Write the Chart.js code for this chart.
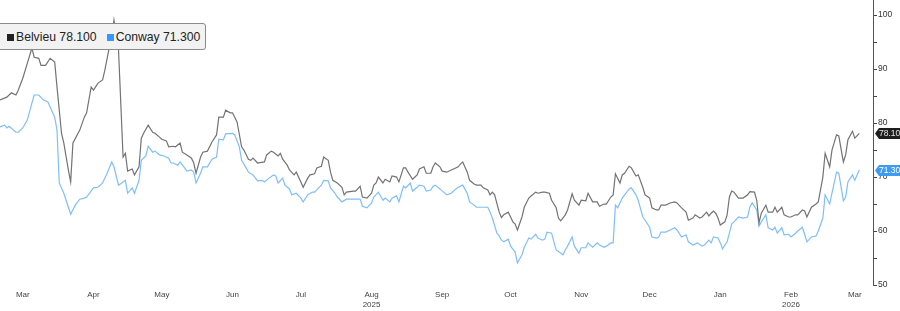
<!DOCTYPE html>
<html>
<head>
<meta charset="utf-8">
<script src="https://cdn.jsdelivr.net/npm/chart.js@4/dist/chart.umd.min.js"></script>
<style>
    body { margin: 0; background: #fff; }
    #wrap { position: relative; width: 900px; height: 311px; }
    #legend {
        position: absolute; left: -3px; top: 23px; height: 25px;
        padding: 0 5px 0 9px; display: flex; align-items: center;
        background: #f2f2f2; border: 1px solid #8a8a8a; border-radius: 3px;
        font-family: "Liberation Sans", Arial, sans-serif; font-size: 12.2px; color: #222;
    }
    #legend .sq { display: inline-block; width: 7px; height: 7px; margin-right: 2px; }
    #legend .item { margin-right: 10px; }
    #legend .item:last-child { margin-right: 0; }
</style>
</head>
<body>
<div id="wrap">
    <canvas id="chart"></canvas>
    <div id="legend"></div>
</div>
<script>
// x values are days counted from 1 Mar 2025
const monthDays = [0, 31, 61, 92, 122, 153, 184, 214, 245, 275, 306, 337, 365];
const monthLabels = ['Mar', 'Apr', 'May', 'Jun', 'Jul', ['Aug', '2025'], 'Sep', 'Oct', 'Nov', 'Dec', 'Jan', ['Feb', '2026'], 'Mar'];

const belvieuDays = [-10, -7, -5, -3, -2, 0, 2, 4, 5, 7, 8, 10, 12, 14, 15, 17, 18, 20, 21, 22, 25, 27, 28, 30, 31, 33, 35, 36, 38, 39, 40, 42, 44, 45, 46, 48, 49, 51, 52, 53, 55, 57, 58, 60, 61, 63, 64, 66, 67, 69, 70, 72, 74, 75, 76, 78, 79, 81, 83, 85, 86, 88, 89, 91, 92, 94, 96, 97, 99, 100, 101, 103, 106, 107, 109, 110, 112, 113, 114, 116, 117, 119, 120, 122, 123, 125, 126, 128, 129, 131, 132, 134, 135, 136, 138, 140, 141, 142, 145, 146, 148, 149, 151, 153, 154, 155, 156, 158, 159, 161, 162, 164, 165, 167, 168, 169, 171, 173, 174, 176, 177, 179, 180, 181, 183, 184, 186, 188, 189, 191, 192, 193, 195, 196, 198, 199, 201, 202, 204, 205, 206, 207, 209, 210, 211, 213, 214, 215, 216, 217, 219, 220, 222, 223, 225, 226, 228, 229, 231, 232, 234, 235, 236, 238, 239, 241, 242, 244, 245, 247, 248, 250, 252, 253, 255, 256, 258, 259, 260, 262, 263, 264, 266, 267, 269, 270, 272, 273, 275, 276, 278, 279, 280, 282, 284, 286, 287, 289, 291, 292, 294, 295, 297, 298, 300, 301, 302, 303, 304, 305, 306, 308, 309, 310, 311, 312, 314, 316, 318, 319, 321, 322, 323, 324, 326, 327, 329, 330, 331, 333, 334, 336, 337, 339, 340, 342, 343, 344, 346, 348, 349, 351, 352, 354, 355, 357, 358, 360, 361, 362, 364, 365, 367];
const belvieuValues = [84.3, 84.8, 85.6, 85.2, 86.1, 88.3, 91.1, 93.9, 92.2, 92.0, 90.7, 90.7, 92.0, 91.3, 86.7, 78.1, 76.3, 71.3, 69.1, 76.3, 78.7, 81.1, 81.9, 86.7, 86.1, 87.4, 88.0, 89.8, 94.1, 95.9, 99.1, 93.5, 73.7, 74.4, 71.1, 71.5, 70.4, 71.9, 77.2, 78.1, 79.6, 78.3, 78.1, 77.4, 77.0, 76.7, 75.6, 75.7, 75.6, 76.3, 74.6, 74.1, 73.5, 72.6, 70.7, 73.7, 74.6, 74.8, 76.5, 77.8, 81.1, 81.1, 82.4, 81.9, 81.9, 80.2, 75.6, 75.0, 73.3, 73.1, 73.5, 72.6, 72.8, 74.1, 74.8, 74.6, 73.9, 74.4, 73.3, 72.2, 71.3, 70.4, 70.9, 69.1, 68.1, 69.8, 70.4, 70.6, 71.7, 72.0, 73.7, 73.1, 70.9, 69.4, 68.9, 68.1, 66.7, 67.2, 67.4, 67.4, 68.3, 66.3, 66.1, 67.0, 68.5, 68.9, 70.0, 68.9, 69.6, 69.1, 70.2, 70.0, 69.1, 71.7, 71.7, 70.9, 69.6, 70.4, 71.5, 71.9, 70.7, 70.7, 71.9, 72.6, 71.9, 71.1, 70.9, 71.3, 71.5, 71.9, 72.4, 72.8, 70.9, 69.4, 68.7, 68.5, 68.5, 68.0, 67.6, 66.7, 67.2, 66.7, 63.5, 62.5, 63.0, 63.5, 62.6, 61.7, 61.3, 60.2, 62.6, 64.4, 66.1, 66.5, 67.2, 67.0, 67.2, 67.2, 67.0, 65.7, 64.3, 62.4, 61.9, 63.0, 63.9, 66.9, 65.7, 64.8, 65.7, 65.6, 67.0, 65.4, 65.4, 64.6, 65.0, 65.0, 66.3, 66.7, 70.6, 68.9, 70.4, 70.7, 72.0, 71.7, 70.2, 70.4, 68.1, 66.7, 66.1, 64.3, 63.9, 63.9, 64.8, 64.8, 65.2, 65.4, 65.2, 64.3, 63.5, 62.0, 62.4, 63.0, 62.4, 62.6, 63.5, 62.8, 63.3, 63.7, 63.3, 62.4, 61.1, 61.7, 63.0, 66.3, 67.4, 67.2, 66.1, 66.1, 66.7, 67.3, 67.2, 65.7, 61.5, 63.3, 64.8, 63.5, 63.5, 64.4, 63.5, 64.4, 63.0, 62.6, 62.6, 63.0, 63.0, 63.9, 63.7, 62.6, 64.4, 65.0, 65.4, 70.0, 74.4, 71.9, 75.0, 77.8, 77.6, 72.8, 74.1, 76.9, 78.5, 77.2, 78.1];

const conwayDays = [-10, -8, -7, -6, -3, -2, 0, 2, 4, 5, 7, 9, 11, 14, 15, 16, 18, 20, 21, 23, 25, 27, 28, 31, 33, 35, 37, 39, 40, 42, 45, 46, 48, 49, 51, 52, 54, 55, 57, 58, 60, 62, 64, 65, 66, 68, 69, 71, 72, 74, 75, 76, 78, 79, 81, 83, 85, 86, 88, 89, 92, 93, 95, 96, 98, 99, 101, 103, 105, 106, 108, 110, 111, 112, 114, 115, 117, 118, 120, 122, 123, 125, 127, 128, 130, 131, 132, 134, 135, 137, 138, 140, 142, 144, 146, 148, 149, 151, 153, 154, 156, 158, 159, 161, 162, 164, 165, 167, 168, 170, 171, 173, 174, 176, 177, 179, 180, 181, 183, 186, 188, 190, 191, 193, 195, 196, 198, 199, 202, 204, 205, 206, 208, 209, 210, 211, 213, 214, 216, 217, 219, 220, 222, 223, 225, 226, 228, 229, 230, 232, 233, 234, 237, 238, 239, 241, 242, 244, 245, 247, 248, 250, 252, 253, 255, 256, 258, 259, 260, 261, 263, 266, 267, 269, 270, 272, 273, 275, 276, 278, 279, 280, 282, 284, 286, 287, 289, 291, 292, 294, 296, 298, 299, 301, 302, 303, 305, 306, 307, 308, 309, 311, 312, 314, 316, 318, 319, 320, 322, 323, 324, 326, 327, 329, 330, 331, 333, 334, 336, 337, 339, 340, 342, 343, 344, 346, 348, 349, 351, 352, 354, 355, 357, 358, 360, 361, 362, 364, 365, 367];
const conwayValues = [79.3, 79.6, 79.1, 79.4, 78.3, 78.3, 79.1, 80.6, 83.7, 85.2, 85.2, 84.3, 83.9, 81.1, 78.7, 68.9, 67.0, 64.4, 63.1, 64.8, 65.9, 66.1, 66.3, 68.0, 68.1, 68.9, 70.7, 72.8, 71.9, 68.5, 69.4, 67.0, 68.0, 67.0, 69.4, 73.1, 73.9, 75.7, 74.6, 74.8, 74.1, 73.9, 73.5, 72.6, 72.6, 72.2, 72.8, 71.7, 71.1, 71.3, 70.9, 68.9, 70.7, 71.9, 71.9, 73.3, 73.7, 77.0, 76.9, 78.0, 78.1, 77.8, 75.6, 73.1, 71.7, 70.9, 70.4, 69.3, 69.4, 69.1, 69.8, 70.4, 70.2, 68.9, 69.8, 68.5, 67.8, 66.7, 67.0, 66.1, 65.4, 66.7, 67.2, 67.2, 68.1, 68.5, 69.4, 69.3, 68.0, 67.0, 66.3, 65.4, 65.9, 65.9, 65.9, 65.9, 64.6, 64.3, 65.2, 66.3, 67.2, 65.7, 66.1, 65.4, 66.1, 66.5, 65.4, 68.3, 68.0, 68.9, 67.4, 68.1, 68.5, 68.3, 67.4, 67.6, 68.3, 68.5, 67.8, 66.7, 67.0, 67.8, 68.1, 68.5, 67.0, 65.4, 64.8, 64.4, 64.4, 64.4, 63.5, 62.4, 59.6, 59.1, 58.3, 58.0, 58.5, 57.2, 56.1, 54.1, 55.6, 57.0, 58.7, 58.5, 59.4, 58.7, 58.3, 58.5, 59.8, 59.6, 58.0, 56.5, 55.6, 56.5, 57.2, 58.9, 57.2, 55.9, 56.9, 56.9, 57.8, 57.0, 57.8, 57.4, 57.0, 57.2, 57.8, 57.8, 64.8, 64.3, 66.1, 67.8, 68.0, 66.7, 65.7, 62.6, 62.0, 60.7, 58.9, 58.7, 58.9, 59.8, 59.8, 60.2, 60.6, 60.2, 58.9, 59.3, 58.0, 57.4, 57.8, 57.2, 57.4, 58.3, 57.8, 58.9, 58.7, 57.8, 56.7, 57.4, 58.0, 61.3, 61.7, 62.6, 62.4, 62.6, 64.5, 65.2, 63.9, 60.9, 61.7, 63.0, 60.6, 60.2, 60.7, 59.6, 60.6, 59.3, 59.4, 58.9, 59.6, 60.0, 60.7, 59.4, 58.0, 58.9, 59.1, 60.0, 62.4, 66.7, 65.0, 67.0, 70.9, 70.7, 65.6, 66.3, 69.1, 70.4, 69.4, 71.3];

const belvieuLast = belvieuValues[belvieuValues.length - 1];
const conwayLast = conwayValues[conwayValues.length - 1];

/// ==== Legend (html, sits on top of the plot) ==== ///
document.getElementById('legend').innerHTML =
    '<span class="item"><span class="sq" style="background:#222"></span>Belvieu ' + belvieuLast.toFixed(3) + '</span>' +
    '<span class="item"><span class="sq" style="background:#3399ff"></span>Conway ' + conwayLast.toFixed(3) + '</span>';

/// ==== Last value tags on the right axis ==== ///
const lastTags = {
    id: 'lastTags',
    afterDraw(chart) {
        const ctx = chart.ctx;
        const y = chart.scales.y;
        const left = chart.chartArea.right + 2;
        chart.data.datasets.forEach(ds => {
            const last = ds.data[ds.data.length - 1].y;
            const py = Math.round(y.getPixelForValue(last)) + 0.5;
            ctx.save();
            ctx.fillStyle = ds.tagColor;
            ctx.beginPath();
            ctx.moveTo(left, py);
            ctx.lineTo(left + 4, py - 5.5);
            ctx.lineTo(900, py - 5.5);
            ctx.lineTo(900, py + 5.5);
            ctx.lineTo(left + 4, py + 5.5);
            ctx.closePath();
            ctx.fill();
            ctx.fillStyle = ds.tagText;
            ctx.font = '8.5px "Liberation Sans", Arial, sans-serif';
            ctx.textBaseline = 'middle';
            ctx.fillText(last.toFixed(3), left + 4, py + 0.5);
            ctx.restore();
        });
    }
};

new Chart(document.getElementById('chart'), {
    type: 'line',
    data: {
        datasets: [{
            label: 'Belvieu',
            data: belvieuDays.map((d, i) => ({ x: d, y: belvieuValues[i] })),
            borderColor: '#737373',
            borderWidth: 1.2,
            tagColor: '#1e1e1e',
            tagText: '#e6e6e6'
        }, {
            label: 'Conway',
            data: conwayDays.map((d, i) => ({ x: d, y: conwayValues[i] })),
            borderColor: '#7fbff8',
            borderWidth: 1.2,
            tagColor: '#3d9cf0',
            tagText: '#ffffff'
        }]
    },
    options: {
        responsive: true,
        maintainAspectRatio: false,
        animation: false,
        layout: { padding: 0 },
        elements: { point: { radius: 0 }, line: { tension: 0 } },
        plugins: { legend: { display: false }, tooltip: { enabled: false } },
        scales: {
            x: {
                type: 'linear',
                min: -10,
                max: 373,
                grid: { display: false },
                border: { display: false },
                afterBuildTicks: scale => { scale.ticks = monthDays.map(v => ({ value: v })); },
                afterFit: scale => { scale.height = 26; },
                ticks: {
                    autoSkip: false,
                    maxRotation: 0,
                    padding: -3,
                    color: '#444',
                    font: { family: '"Liberation Sans", Arial, sans-serif', size: 8, lineHeight: 1.25 },
                    callback: (v, i) => monthLabels[i]
                }
            },
            y: {
                position: 'right',
                min: 50,
                max: 102.8,
                border: { display: true, color: '#555', width: 1 },
                grid: { drawOnChartArea: false, drawTicks: true, tickLength: 4, color: '#444' },
                afterFit: scale => { scale.width = 27; scale.paddingTop = 0; scale.paddingBottom = 0; },
                ticks: {
                    stepSize: 5,
                    includeBounds: false,
                    padding: 1,
                    color: '#333',
                    font: { family: '"Liberation Sans", Arial, sans-serif', size: 8.5 },
                    callback: v => (v % 10 === 0 ? v : '')
                }
            }
        }
    },
    plugins: [lastTags]
});
</script>
</body>
</html>
